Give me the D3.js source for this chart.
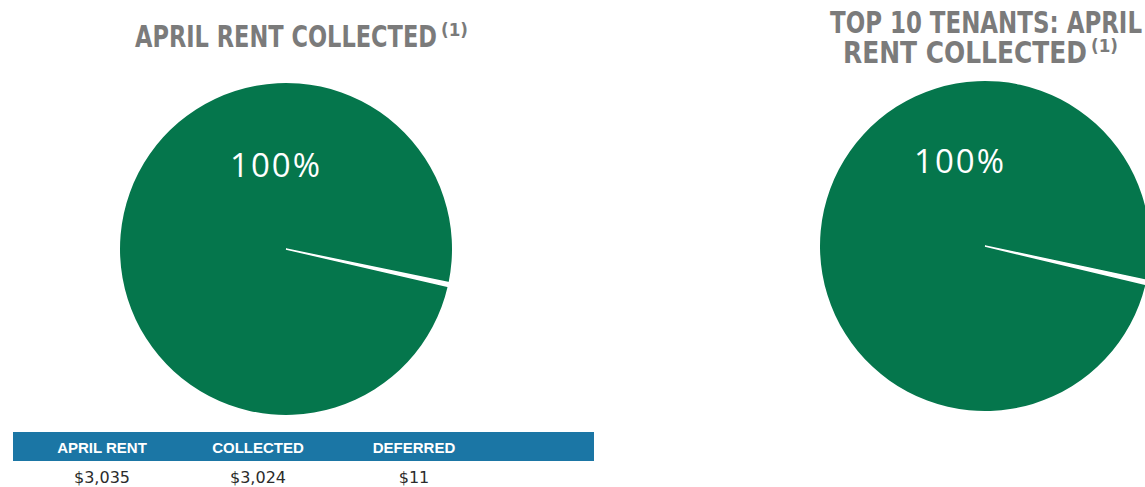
<!DOCTYPE html>
<html>
<head>
<meta charset="utf-8">
<script src="https://cdn.jsdelivr.net/npm/d3@7"></script>
<style>
    body { margin: 0; background: #ffffff; }
    svg { display: block; }
</style>
</head>
<body>
<svg id="drawing_region"></svg>
<script>
// data
const rentCategories = ['Collected', 'Deferred'];
const aprilRentValues = [3024, 11];          // $ thousands
const top10TenantValues = [99.6, 0.4];       // % of top 10 tenants rent
const pieLabels = ['100%', '100%'];

const tableHeaders = ['APRIL RENT', 'COLLECTED', 'DEFERRED'];
const tableValues = ['$3,035', '$3,024', '$11'];

class Piechart {

    constructor( config, data ) {
        this.config = {
            parent: config.parent,
            cx: config.cx,
            cy: config.cy,
            radius: config.radius || 128,
            startAngle: config.startAngle || 0,
            title: config.title,
            label: config.label,
            labelDx: config.labelDx || 0,
            labelDy: config.labelDy || 0
        }
        this.data = data;
        this.init();
    }

    init() {
        let self = this;

        self.chart = self.config.parent.append('g')
            .attr('transform', `translate(${self.config.cx}, ${self.config.cy})`);

        self.pie = d3.pie()
            .sort(null)
            .value( d => d.value )
            .startAngle(self.config.startAngle)
            .endAngle(self.config.startAngle + 2 * Math.PI);

        self.arc = d3.arc()
            .innerRadius(0)
            .outerRadius(self.config.radius);

        self.color = d3.scaleOrdinal()
            .domain(rentCategories)
            .range(['#05764c', '#ffffff']);
    }

    update() {
        let self = this;
        self.render();
    }

    render() {
        let self = this;

        self.chart.selectAll('path')
            .data( self.pie(self.data) )
            .enter()
            .append('path')
            .attr('d', self.arc)
            .attr('fill', d => self.color(d.data.name))
            .attr('stroke', d => d.data.name === 'Deferred' ? '#ffffff' : 'none')
            .style('stroke-width', '1.5px');

        self.chart.append('text')
            .attr('x', self.config.labelDx)
            .attr('y', self.config.labelDy)
            .attr('text-anchor', 'middle')
            .attr('fill', '#ffffff')
            .style('font-family', '"Open Sans", sans-serif')
            .style('font-size', '33px')
            .style('letter-spacing', '2px')
            .text(self.config.label);

        // title lines squeezed to a condensed look; last line has the (1) mark
        const lines = self.config.title;
        lines.forEach( (line, i) => {
            self.config.parent.append('text')
                .attr('x', line.x)
                .attr('y', line.y)
                .attr('textLength', line.w)
                .attr('lengthAdjust', 'spacingAndGlyphs')
                .attr('fill', '#7b7b7b')
                .style('font-family', '"DejaVu Sans", sans-serif')
                .style('font-weight', 'bold')
                .style('font-size', '30px')
                .text(line.text);
            if (i === lines.length - 1) {
                self.config.parent.append('text')
                    .attr('x', line.x + line.w + 4)
                    .attr('y', line.y - 11)
                    .attr('textLength', 27)
                    .attr('lengthAdjust', 'spacingAndGlyphs')
                    .attr('fill', '#7b7b7b')
                    .style('font-family', '"DejaVu Sans", sans-serif')
                    .style('font-weight', 'bold')
                    .style('font-size', '18px')
                    .text('(1)');
            }
        });
    }
}

const svg = d3.select('#drawing_region')
    .attr('width', 1145)
    .attr('height', 487);

const left = new Piechart({
    parent: svg, cx: 286, cy: 249, radius: 166,
    startAngle: 103 * Math.PI / 180,
    title: [{ text: 'APRIL RENT COLLECTED', x: 135, y: 47, w: 302 }],
    label: pieLabels[0], labelDx: -10, labelDy: -72
}, rentCategories.map( (c, i) => ({ name: c, value: aprilRentValues[i] }) ));
left.update();

const right = new Piechart({
    parent: svg, cx: 985, cy: 246, radius: 165,
    startAngle: 103.4 * Math.PI / 180,
    title: [
        { text: 'TOP 10 TENANTS: APRIL', x: 830, y: 33, w: 312 },
        { text: 'RENT COLLECTED', x: 843, y: 63, w: 244 }
    ],
    label: pieLabels[1], labelDx: -25, labelDy: -73
}, rentCategories.map( (c, i) => ({ name: c, value: top10TenantValues[i] }) ));
right.update();

// rent table under the left pie
const table = svg.append('g');
const col = d3.scalePoint()
    .domain(tableHeaders)
    .range([102, 414]);

table.append('rect')
    .attr('x', 13)
    .attr('y', 432)
    .attr('width', 581)
    .attr('height', 29)
    .attr('fill', '#1b76a5');

table.selectAll('.head')
    .data(tableHeaders)
    .enter()
    .append('text')
    .attr('class', 'head')
    .attr('x', d => col(d))
    .attr('y', 453)
    .attr('text-anchor', 'middle')
    .attr('fill', '#ffffff')
    .style('font-family', '"Liberation Sans", sans-serif')
    .style('font-weight', 'bold')
    .style('font-size', '15px')
    .text(d => d);

table.selectAll('.val')
    .data(tableValues)
    .enter()
    .append('text')
    .attr('class', 'val')
    .attr('x', (d, i) => col(tableHeaders[i]))
    .attr('y', 483)
    .attr('text-anchor', 'middle')
    .attr('fill', '#2b2b2b')
    .style('font-family', '"DejaVu Sans", sans-serif')
    .style('font-size', '16px')
    .text(d => d);
</script>
</body>
</html>
